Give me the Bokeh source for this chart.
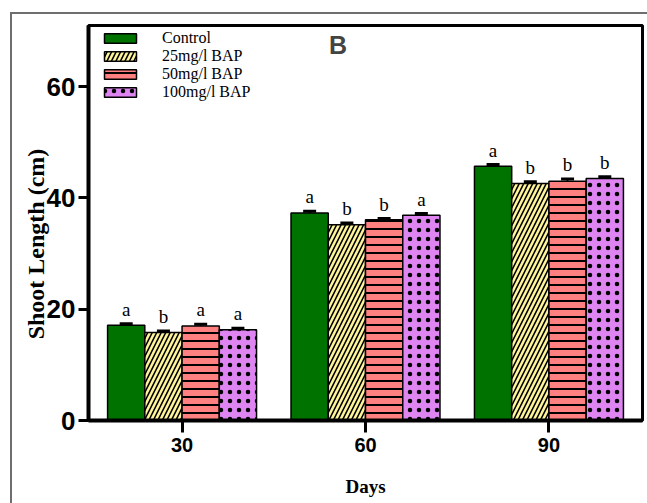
from bokeh.plotting import figure
from bokeh.models import (ColumnDataSource, FixedTicker, Whisker, Legend, LegendItem,
                          CanvasTexture, Label)
from bokeh.transform import dodge
from bokeh.core.properties import value
from bokeh.embed import file_html
from bokeh.resources import INLINE

# ---------------- data ----------------
days = [1, 2, 3]
day_labels = ["30", "60", "90"]
series_names = ["Control", "25mg/l BAP", "50mg/l BAP", "100mg/l BAP"]
control = [17.1, 37.3, 45.7]
bap25 = [15.8, 35.2, 42.6]
bap50 = [17.0, 36.1, 43.0]
bap100 = [16.3, 36.9, 43.5]
control_err = [0.3, 0.3, 0.3]
bap25_err = [0.3, 0.3, 0.3]
bap50_err = [0.3, 0.2, 0.4]
bap100_err = [0.3, 0.3, 0.3]
control_letters = ["a", "a", "a"]
bap25_letters = ["b", "b", "b"]
bap50_letters = ["a", "b", "b"]
bap100_letters = ["a", "a", "b"]

checker = CanvasTexture(code="""
const h = scale / 2;
ctx.fillStyle = color;
ctx.fillRect(0, 0, h, h);
ctx.fillRect(h, h, h, h);
""")

W, H = 647, 503
p = figure(width=W, height=H, output_backend="svg", toolbar_location=None,
           x_range=(0.49, 3.51), y_range=(0, 71),
           min_border_left=88, min_border_right=W - 642, min_border_top=25,
           min_border_bottom=H - 420)
p.background_fill_color = "white"
p.border_fill_alpha = 0
p.outline_line_color = "black"
p.outline_line_width = 3
p.xgrid.visible = False
p.ygrid.visible = False
p.styles = {"box-shadow": "inset 10px 12px 0 0 white, inset 12px 14px 0 0 #6e6e6e"}

bw = 0.203
offsets = [-1.5 * bw, -0.5 * bw, 0.5 * bw, 1.5 * bw]
vals = [control, bap25, bap50, bap100]
errs = [control_err, bap25_err, bap50_err, bap100_err]
lets = [control_letters, bap25_letters, bap50_letters, bap100_letters]
fills = ["#00c800", "#fff59a", "#ff8080", "#de85f2"]
hatches = [
    dict(hatch_pattern=value("checker"), hatch_extra={"checker": checker}, hatch_color="black",
         hatch_scale=8),
    dict(hatch_pattern="right_diagonal_line", hatch_color="black", hatch_scale=9, hatch_weight=1.6),
    dict(hatch_pattern="horizontal_line", hatch_color="black", hatch_scale=8, hatch_weight=2),
    dict(hatch_pattern="dot", hatch_color="black", hatch_scale=9, hatch_weight=1),
]

items = []
for i in range(4):
    top = vals[i]
    err = errs[i]
    src = ColumnDataSource(dict(
        x=days, top=top,
        upper=[t + e for t, e in zip(top, err)],
        lower=[t - e for t, e in zip(top, err)],
        ly=[t + e + 0.7 for t, e in zip(top, err)],
        let=lets[i]))
    r = p.vbar(x=dodge("x", offsets[i], range=p.x_range), top="top", bottom=0, width=bw,
               source=src, fill_color=fills[i], line_color="black", line_width=1.5, **hatches[i])
    items.append(LegendItem(label=series_names[i], renderers=[r]))
    w = Whisker(base=dodge("x", offsets[i], range=p.x_range), upper="upper", lower="lower",
                source=src, line_color="black", line_width=2)
    w.upper_head.size = 13
    w.lower_head.size = 13
    w.upper_head.line_width = 3
    w.lower_head.line_width = 3
    p.add_layout(w)
    p.text(x=dodge("x", offsets[i], range=p.x_range), y="ly", text="let", source=src,
           text_font=value("Liberation Serif"), text_font_size="19px", text_color="black",
           text_align="center", text_baseline="bottom")

legend = Legend(items=items, location=(12, 319), margin=0, padding=0, spacing=0,
                glyph_width=40, glyph_height=12, label_height=14, label_standoff=22,
                label_text_font="Liberation Serif", label_text_font_size="16px",
                label_text_color="black", background_fill_alpha=0, border_line_alpha=0)
p.add_layout(legend)

p.add_layout(Label(x=1.85, y=67.5, text="B", text_font="Liberation Sans", text_font_style="bold",
                   text_font_size="25px", text_align="center", text_baseline="middle"))

# axes
p.xaxis.ticker = FixedTicker(ticks=days)
p.xaxis.major_label_overrides = {d: l for d, l in zip(days, day_labels)}
p.yaxis.ticker = FixedTicker(ticks=[0, 20, 40, 60])
for ax in (p.xaxis[0], p.yaxis[0]):
    ax.axis_line_width = 4
    ax.axis_line_color = "black"
    ax.major_tick_line_width = 3
    ax.major_tick_line_color = "black"
    ax.major_tick_in = 0
    ax.minor_tick_line_color = None
    ax.major_label_text_font = "Liberation Sans"
    ax.major_label_text_font_style = "bold"
    ax.major_label_text_color = "black"
    ax.axis_label_text_font = "Liberation Serif"
    ax.axis_label_text_font_style = "bold"
    ax.axis_label_text_color = "black"

p.xaxis.major_tick_out = 12
p.xaxis.major_label_text_font_size = "20px"
p.xaxis.major_label_standoff = 5
p.xaxis.axis_label = "Days"
p.xaxis.axis_label_text_font_size = "19px"
p.xaxis.axis_label_standoff = 21

p.yaxis.major_tick_out = 10
p.yaxis.major_label_text_font_size = "26px"
p.yaxis.major_label_standoff = 3
p.yaxis.axis_label = "Shoot Length (cm)" + "\u00a0" * 7
p.yaxis.axis_label_text_font_size = "24px"
p.yaxis.axis_label_standoff = -5

open("out.html", "w").write(file_html(p, INLINE))
